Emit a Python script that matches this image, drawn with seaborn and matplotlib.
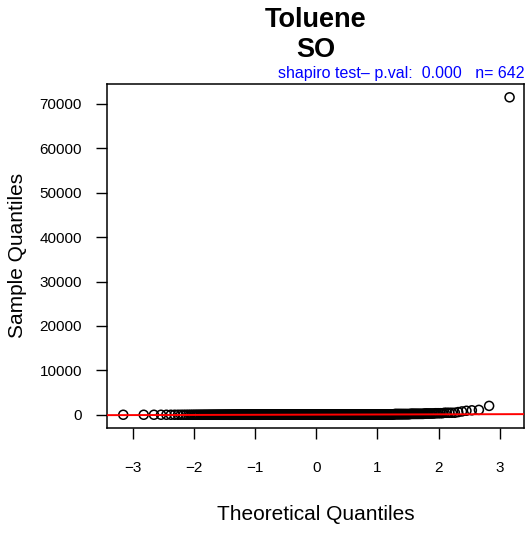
import numpy as np
import pandas as pd
import matplotlib
matplotlib.use("Agg")
import matplotlib.pyplot as plt
import seaborn as sns
from statistics import NormalDist

# valores de la muestra (agrupados: nivel y cuantas veces aparece)
sample_levels = [0, 2, 5, 10, 20, 35, 50, 75, 100, 150, 200, 280, 350, 450,
                 600, 750, 900, 1000, 1100, 2000, 71500]
sample_counts = [57, 60, 80, 80, 80, 70, 60, 50, 40, 25, 15, 8, 5, 5,
                 1, 1, 1, 1, 1, 1, 1]
x_ticks = [-3, -2, -1, 0, 1, 2, 3]
y_ticks = [0, 10000, 20000, 30000, 40000, 50000, 60000, 70000]

title_txt = "Toluene"
subtitle_txt = "SO"
pval = 0.000

sample = np.sort(np.repeat(sample_levels, sample_counts))
n = len(sample)
# cuantiles teoricos como qqnorm de R (ppoints)
nd = NormalDist()
theo = np.array([nd.inv_cdf((i - 0.5) / n) for i in range(1, n + 1)])
df = pd.DataFrame({'theo': theo, 'sample': sample})

# qqline: recta por los cuartiles
q1, q3 = np.percentile(sample, [25, 75])
z1, z3 = nd.inv_cdf(0.25), nd.inv_cdf(0.75)
slope = (q3 - q1) / (z3 - z1)
intercept = q1 - slope * z1

sns.set_style("white")
plt.rcParams['font.family'] = ['Liberation Sans', 'DejaVu Sans']
plt.rcParams['text.color'] = 'black'
plt.rcParams['axes.labelcolor'] = 'black'

fig = plt.figure(figsize=(5.28, 5.33), dpi=100)
ax = fig.add_axes([107 / 528, 1 - 427.5 / 533, 417 / 528, 343.5 / 533])

sns.scatterplot(data=df, x='theo', y='sample', ax=ax, marker='o', s=42,
                facecolors='none', edgecolor='black', linewidth=1.1, zorder=2)
xl = np.array([-4, 4])
ax.plot(xl, intercept + slope * xl, color='red', lw=1.4, zorder=3)

ax.set_xlim(-3.43, 3.40)
ax.set_ylim(-2870, 74500)
ax.set_xticks(x_ticks)
ax.set_yticks(y_ticks)
ax.set_xticklabels([f"{t}".replace('-', '\u2212') for t in x_ticks])
ax.set_yticklabels([str(t) for t in y_ticks])
ax.tick_params(axis='both', direction='out', length=8, width=1, colors='black',
               labelsize=11, bottom=True, left=True)
ax.tick_params(axis='x', pad=16)
ax.tick_params(axis='y', pad=10)
for sp in ax.spines.values():
    sp.set_color('black')
    sp.set_linewidth(1.1)

ax.set_xlabel("Theoretical Quantiles", fontsize=15, va='center')
ax.set_ylabel("Sample Quantiles", fontsize=15, va='center')
ax.xaxis.set_label_coords(0.5, -(515 - 427.5) / 343.5)
ax.yaxis.set_label_coords(-(107 - 18) / 417, 0.5)

cx = (107 + 524) / 2 / 528
fig.text(cx, 1 - 27 / 533, title_txt, ha='center', va='baseline',
         fontsize=19.5, fontweight='bold')
fig.text(cx, 1 - 57 / 533, subtitle_txt, ha='center', va='baseline',
         fontsize=19.5, fontweight='bold')
ax.text(1.0, 1 + 6 / 343.5, f"shapiro test\u2013 p.val:  {pval:.3f}   n= {n}",
        transform=ax.transAxes, ha='right', va='baseline', color='#0000FF',
        fontsize=11.5)

fig.savefig("out.png", dpi=100)
